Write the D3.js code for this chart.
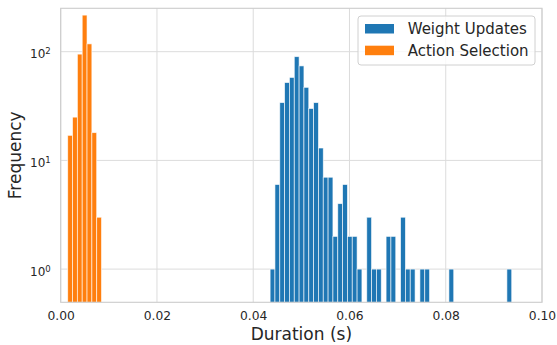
<!DOCTYPE html>
<html>
<head>
<meta charset="utf-8">
<script src="https://cdn.jsdelivr.net/npm/d3@7"></script>
<style>
  body { margin: 0; background: #fff; }
  svg { font-family: "DejaVu Sans", sans-serif; }
</style>
</head>
<body>
<div class="svg-container"></div>
<script>
// histogram bins (counts per bin)
const binWidth = 0.001004;
const weightStart = 0.04351;
const weightCounts = [1, 6, 34, 52, 58, 90, 74, 47, 30, 34, 13, 7, 7, 2, 4, 6, 2, 2, 1, 0,
                      3, 1, 1, 0, 2, 2, 0, 3, 1, 1, 0, 1, 1, 0, 0, 0, 0, 1, 0, 0,
                      0, 0, 0, 0, 0, 0, 0, 0, 0, 1];
const actionStart = 0.001455;
const actionCounts = [17, 25, 95, 217, 118, 18, 3];

const seriesNames = ["Weight Updates", "Action Selection"];
const seriesColors = ["#1f77b4", "#ff7f0e"];
const xTicks = [0, 0.02, 0.04, 0.06, 0.08, 0.1];
const yTicks = [1, 10, 100];

const width = 557, height = 345;
const margin = {left: 60.7, right: 15, top: 8.3, bottom: 42.7};

const svg = d3.select(".svg-container").append("svg")
  .attr("width", width)
  .attr("height", height);

const x = d3.scaleLinear()
  .domain([0, 0.1])
  .range([margin.left, width - margin.right]);

const y = d3.scaleLog()
  .domain([0.495, 250.7])
  .range([height - margin.bottom, margin.top]);

// grid
svg.append("g")
  .selectAll("line.vgrid")
  .data(xTicks)
  .enter().append("line")
  .attr("x1", d => x(d)).attr("x2", d => x(d))
  .attr("y1", margin.top).attr("y2", height - margin.bottom)
  .attr("stroke", "#dcdcdc").attr("stroke-width", 1);

svg.append("g")
  .selectAll("line.hgrid")
  .data(yTicks)
  .enter().append("line")
  .attr("x1", margin.left).attr("x2", width - margin.right)
  .attr("y1", d => y(d)).attr("y2", d => y(d))
  .attr("stroke", "#dcdcdc").attr("stroke-width", 1);

// bars
const toBins = (start, counts) => counts.map((c, i) => ({x0: start + i * binWidth, x1: start + (i + 1) * binWidth, c}))
  .filter(b => b.c > 0);

const drawBars = (bins, color) => {
  svg.append("g")
    .selectAll("rect")
    .data(bins)
    .enter().append("rect")
    .attr("x", b => x(b.x0))
    .attr("width", b => x(b.x1) - x(b.x0))
    .attr("y", b => y(b.c))
    .attr("height", b => (height - margin.bottom) - y(b.c))
    .attr("fill", color)
    .attr("stroke", "#ffffff")
    .attr("stroke-opacity", 0.75)
    .attr("stroke-width", 0.8);
};

drawBars(toBins(weightStart, weightCounts), seriesColors[0]);
drawBars(toBins(actionStart, actionCounts), seriesColors[1]);

// frame
svg.append("rect")
  .attr("x", margin.left).attr("y", margin.top)
  .attr("width", width - margin.right - margin.left)
  .attr("height", height - margin.bottom - margin.top)
  .attr("fill", "none")
  .attr("stroke", "#cccccc").attr("stroke-width", 1.1);

// axes
const xAxis = d3.axisBottom(x)
  .tickValues(xTicks)
  .tickSize(0)
  .tickPadding(9.2)
  .tickFormat(d3.format(".2f"));

const gx = svg.append("g")
  .attr("transform", "translate(0," + (height - margin.bottom) + ")")
  .call(xAxis);
gx.select(".domain").remove();
gx.selectAll("text").attr("font-size", 12.3).attr("fill", "#262626").attr("font-family", "DejaVu Sans");

const yAxis = d3.axisLeft(y)
  .tickValues(yTicks)
  .tickSize(0)
  .tickPadding(10)
  .tickFormat(() => "");

const gy = svg.append("g")
  .attr("transform", "translate(" + margin.left + ",0)")
  .call(yAxis);
gy.select(".domain").remove();
gy.selectAll("text")
  .attr("font-size", 12).attr("fill", "#262626").attr("font-family", "DejaVu Sans")
  .attr("dy", "0.5em")
  .each(function(d) {
    const t = d3.select(this);
    t.append("tspan").text("10");
    t.append("tspan").attr("dy", "-0.45em").attr("font-size", "8.5px").text(Math.round(Math.log10(d)));
  });

// axis labels
svg.append("text")
  .text("Duration (s)")
  .attr("x", (margin.left + width - margin.right) / 2)
  .attr("y", 340)
  .attr("text-anchor", "middle")
  .attr("font-size", 17)
  .attr("fill", "#262626");

svg.append("text")
  .text("Frequency")
  .attr("transform", "translate(21," + ((margin.top + height - margin.bottom) / 2) + ") rotate(-90)")
  .attr("text-anchor", "middle")
  .attr("font-size", 17)
  .attr("fill", "#262626");

// legend
const legend = svg.append("g").attr("transform", "translate(358,16)");
legend.append("rect")
  .attr("width", 177).attr("height", 49)
  .attr("rx", 3)
  .attr("fill", "#ffffff").attr("fill-opacity", 0.8)
  .attr("stroke", "#d0d0d0").attr("stroke-width", 1);

seriesNames.forEach((name, i) => {
  legend.append("rect")
    .attr("x", 7).attr("y", 8 + i * 21.7)
    .attr("width", 29).attr("height", 9.5)
    .attr("fill", seriesColors[i]);
  legend.append("text")
    .attr("x", 49.7).attr("y", 12.5 + i * 21.7)
    .attr("dy", "0.36em")
    .attr("font-size", 15)
    .attr("fill", "#262626")
    .text(name);
});
</script>
</body>
</html>
